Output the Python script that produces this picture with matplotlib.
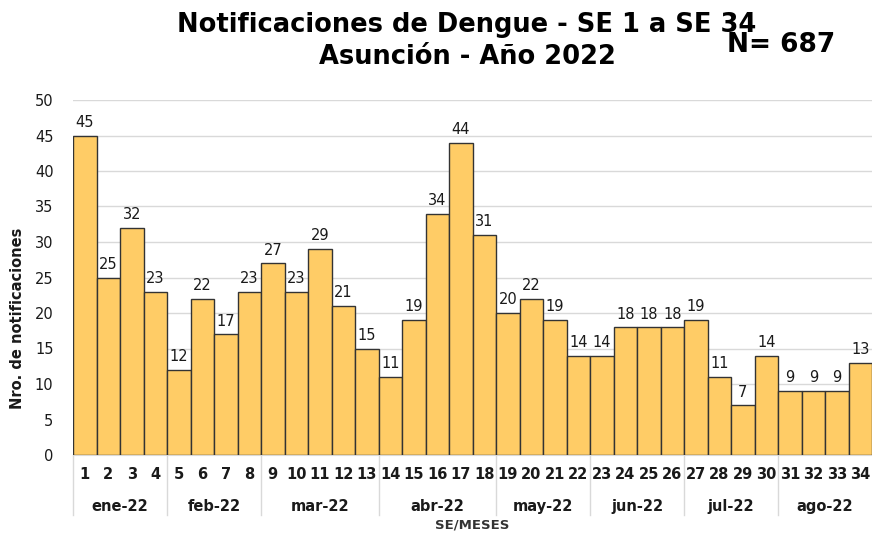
import matplotlib
matplotlib.use('Agg')
from matplotlib import pyplot as plt
import numpy as np

semanas = list(range(1, 35))
casos = [45, 25, 32, 23, 12, 22, 17, 23, 27, 23, 29, 21, 15, 11, 19, 34, 44, 31,
         20, 22, 19, 14, 14, 18, 18, 18, 19, 11, 7, 14, 9, 9, 9, 13]
meses = ['ene-22', 'feb-22', 'mar-22', 'abr-22', 'may-22', 'jun-22', 'jul-22', 'ago-22']
sem_por_mes = [4, 4, 5, 5, 4, 4, 4, 4]

plt.rcParams['font.family'] = ['DejaVu Sans']

fig = plt.figure(figsize=(8.72, 5.33), dpi=100)
ax = fig.add_axes([73 / 872, 1 - 455 / 533, 1 - 73 / 872, (455 - 100) / 533])

x = np.arange(len(semanas))
ax.bar(x, casos, width=1.0, color='#FFCC66', edgecolor='#333333', linewidth=1.0, zorder=3)
for xi, v in zip(x, casos):
    ax.text(xi, v + 0.8, str(v), ha='center', va='bottom', fontsize=10.5, color='#1a1a1a', zorder=4)

ax.set_xlim(-0.5, len(semanas) - 0.5)
ax.set_ylim(0, 50)
ax.set_yticks(np.arange(0, 51, 5))
ax.yaxis.grid(True, color='#d9d9d9', linewidth=1, zorder=0)
ax.tick_params(axis='y', length=0, labelsize=10.5, pad=14, labelcolor='#1a1a1a')
ax.set_xticks([])
for s in ['top', 'right', 'left']:
    ax.spines[s].set_visible(False)
ax.spines['bottom'].set_color('#d9d9d9')

trans = ax.get_xaxis_transform()
for xi, s in zip(x, semanas):
    ax.text(xi, -0.055, str(s), transform=trans, ha='center', va='center',
            fontsize=10.5, fontweight='bold', color='#1a1a1a')

inicio = 0
bordes = [inicio]
for m, n in zip(meses, sem_por_mes):
    centro = inicio + (n - 1) / 2
    ax.text(centro, -0.145, m, transform=trans, ha='center', va='center',
            fontsize=10.5, fontweight='bold', color='#1a1a1a')
    inicio += n
    bordes.append(inicio)
for b in bordes[:-1]:
    ax.plot([b - 0.5, b - 0.5], [0, -0.17], transform=trans, color='#d9d9d9',
            linewidth=1, clip_on=False)

ax.text(0.5, -0.198, 'SE/MESES', transform=ax.transAxes, ha='center', va='center',
        fontsize=9.5, fontweight='bold', color='#333333')
fig.text(18 / 872, 1 - 318 / 533, 'Nro. de notificaciones', rotation=90, ha='center',
         va='center', fontsize=10.5, fontweight='bold', color='#1a1a1a')

fig.text(467 / 872, 1 - 25 / 533, 'Notificaciones de Dengue - SE 1 a SE 34', ha='center',
         va='center', fontsize=18.5, fontweight='bold')
fig.text(467 / 872, 1 - 57 / 533, 'Asunción - Año 2022', ha='center', va='center',
         fontsize=18.5, fontweight='bold')
fig.text(781 / 872, 1 - 45 / 533, 'N= 687', ha='center', va='center',
         fontsize=19, fontweight='bold')

fig.savefig('out.png', dpi=100)
